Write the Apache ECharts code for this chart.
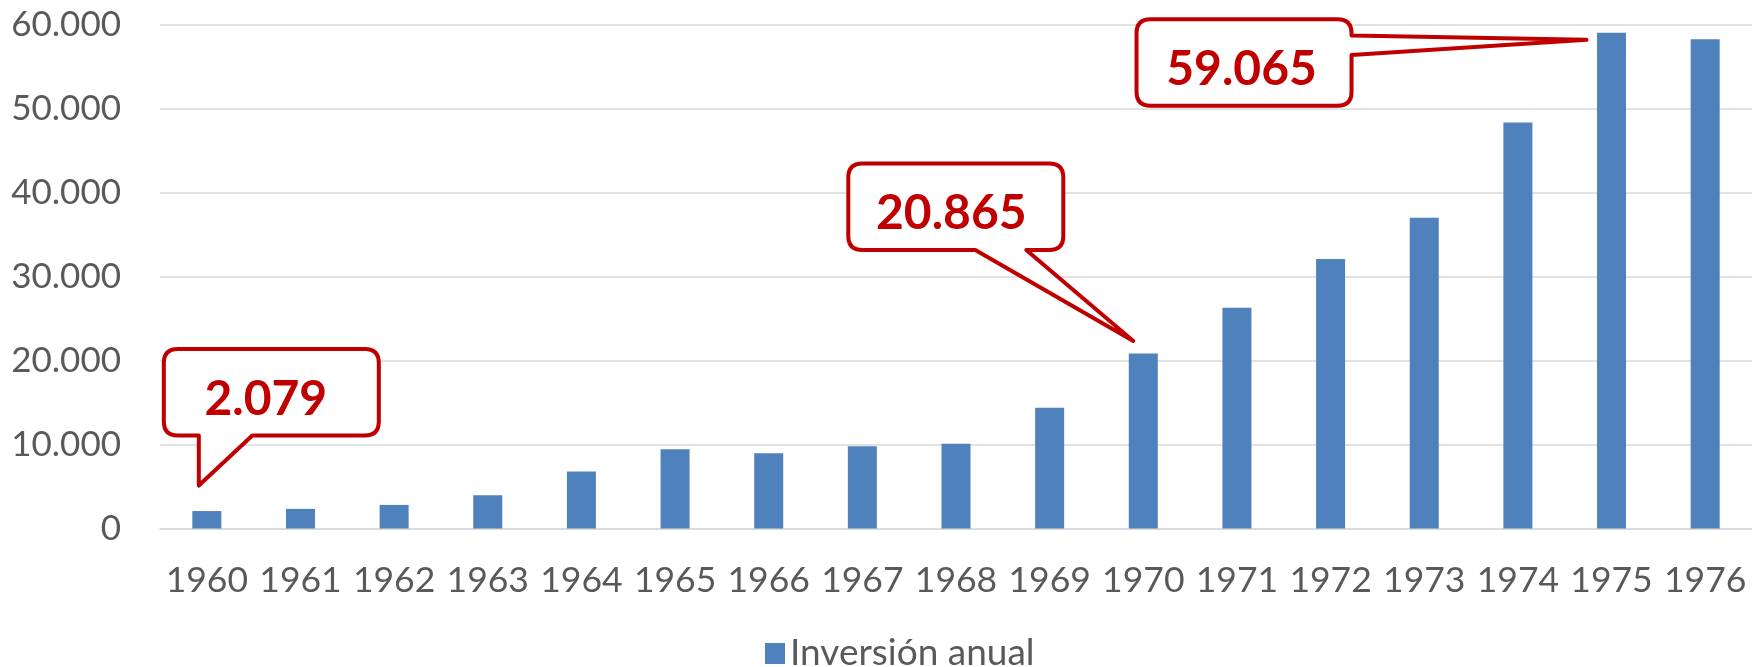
<!DOCTYPE html>
<html>
<head>
<meta charset="utf-8">
<title>Inversión anual</title>
<script src="https://cdn.jsdelivr.net/npm/echarts@6/dist/echarts.min.js"></script>
<style>
  * { margin: 0; padding: 0; }
  html, body { width: 1752px; height: 667px; background: #fff; overflow: hidden; }
  #chart { width: 1752px; height: 667px; }
</style>
</head>
<body>
<div id="chart"></div>
<script>
// datos
const years = ['1960', '1961', '1962', '1963', '1964', '1965', '1966', '1967', '1968',
  '1969', '1970', '1971', '1972', '1973', '1974', '1975', '1976'];
const inversion = [2079, 2340, 2810, 3960, 6800, 9450, 8980, 9790, 10090,
  14380, 20865, 26300, 32130, 37020, 48380, 59065, 58300];
const yMin = 0;
const yMax = 60000;
const yStep = 10000;
const calloutYears = ['1960', '1970', '1975'];

// forma de cada globo, en px relativos a la cima de la barra
const calloutShapes = [
  { box: [-43, -162, 172, -75.5], side: 'bottom', base: [-8, 45.5], tip: [-8, -25.5], text: [59, -112] },
  { box: [-295, -190, -80, -103.5], side: 'bottom', base: [-168, -117], tip: [-10, -12.5], text: [-192, -140] },
  { box: [-475, -13.5, -260, 73], side: 'right', base: [2.6, 22.2], tip: [-25, 7], text: [-370, 37] }
];

const red = '#c00000';
const grey = '#595959';
const font = 'Lato';

function fmt(v) {
  return String(v).replace(/\B(?=(\d{3})+(?!\d))/g, '.');
}

// globo: rectangulo redondeado con cola
function balloonPath(px, py, s) {
  const r = 14;
  const L = px + s.box[0], T = py + s.box[1], R = px + s.box[2], B = py + s.box[3];
  const tx = px + s.tip[0], ty = py + s.tip[1];
  let d = `M${L + r},${T} H${R - r} Q${R},${T} ${R},${T + r} `;
  if (s.side === 'right') {
    d += `V${py + s.base[0]} L${tx},${ty} L${R},${py + s.base[1]} `;
  }
  d += `V${B - r} Q${R},${B} ${R - r},${B} `;
  if (s.side === 'bottom') {
    d += `H${px + s.base[1]} L${tx},${ty} L${px + s.base[0]},${B} `;
  }
  d += `H${L + r} Q${L},${B} ${L},${B - r} V${T + r} Q${L},${T} ${L + r},${T} Z`;
  return d;
}

let chart = echarts.init(document.getElementById('chart'));
let option = {
  animation: false,
  textStyle: { fontFamily: font },
  grid: {
    left: 160,
    right: -7,
    top: 25,
    bottom: 138.5
  },
  legend: {
    data: ['Inversión anual'],
    left: 760,
    top: 630,
    icon: 'rect',
    itemWidth: 20,
    itemHeight: 21,
    itemGap: 8,
    textStyle: { fontSize: 37, color: grey, fontFamily: font }
  },
  xAxis: {
    type: 'category',
    data: years,
    axisLine: { show: true, lineStyle: { color: '#d9d9d9', width: 1.5 } },
    axisTick: { show: false },
    axisLabel: { interval: 0, fontSize: 35.5, lineHeight: 35, color: grey, margin: 35 }
  },
  yAxis: {
    type: 'value',
    min: yMin,
    max: yMax,
    interval: yStep,
    axisLine: { show: false },
    axisTick: { show: false },
    splitLine: { lineStyle: { color: '#d9d9d9', width: 1.5 } },
    axisLabel: { fontSize: 35, color: grey, margin: 39, formatter: v => fmt(v) }
  },
  series: [
    {
      name: 'Inversión anual',
      type: 'bar',
      data: inversion,
      barWidth: 29,
      itemStyle: { color: '#4f81bd' }
    },
    {
      name: 'globos',
      type: 'custom',
      z: 10,
      clip: false,
      silent: true,
      data: calloutYears.map(y => {
        let i = years.indexOf(y);
        return [i, inversion[i]];
      }),
      renderItem: (params, api) => {
        let p = api.coord([api.value(0), api.value(1)]);
        let s = calloutShapes[params.dataIndex];
        return {
          type: 'group',
          children: [
            {
              type: 'path',
              shape: { pathData: balloonPath(p[0], p[1], s) },
              style: { fill: '#fff', stroke: red, lineWidth: 4, lineJoin: 'round' }
            },
            {
              type: 'text',
              x: p[0] + s.text[0],
              y: p[1] + s.text[1],
              style: {
                text: fmt(api.value(1)),
                font: `bold 48px ${font}`,
                fill: red,
                align: 'center',
                verticalAlign: 'middle'
              }
            }
          ]
        };
      }
    }
  ]
};
chart.setOption(option);
</script>
</body>
</html>
